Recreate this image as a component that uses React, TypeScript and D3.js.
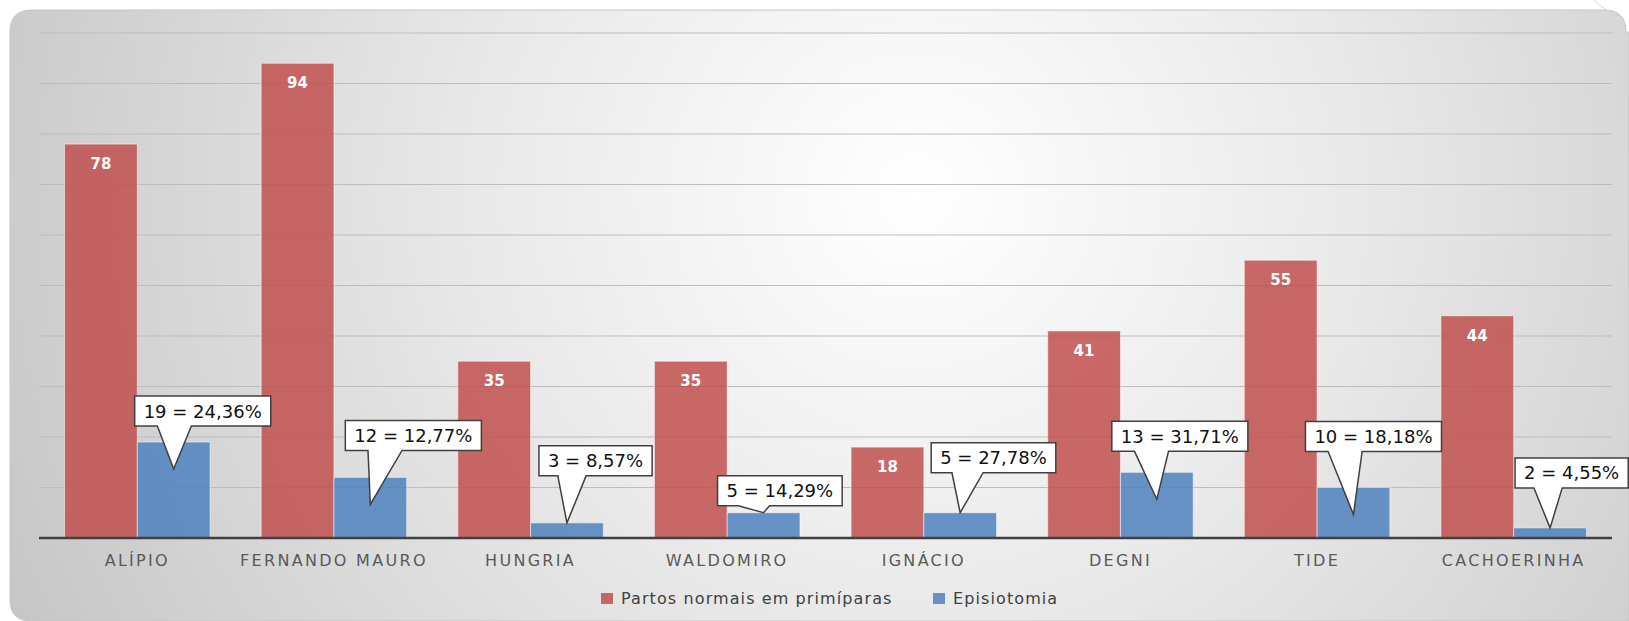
import React, { useMemo } from 'react';
import * as d3 from 'd3';

const WIDTH = 1629;
const HEIGHT = 621;
const PLOT = { left: 39, right: 1612, top: 33, bottom: 538 };

const categories = ['ALÍPIO', 'FERNANDO MAURO', 'HUNGRIA', 'WALDOMIRO', 'IGNÁCIO', 'DEGNI', 'TIDE', 'CACHOERINHA'];
const partos = [78, 94, 35, 35, 18, 41, 55, 44];
const episiotomia = [19, 12, 3, 5, 5, 13, 10, 2];
const seriesNames = ['Partos normais em primíparas', 'Episiotomia'];
const yTicks = [0, 10, 20, 30, 40, 50, 60, 70, 80, 90, 100];

// where each callout box sits relative to its pointer tip (box left, box bottom)
const calloutOffsets: [number, number][] = [
  [-39, -43], [-25, -54], [-28, -47], [-46, -7], [-29, -40], [-45, -48], [-48, -63], [-35, -40],
];

const RED = '#c0504d';
const BLUE = '#4f81bd';
const CALLOUT_FONT = '18px "DejaVu Sans"';

const fmtPct = (v: number) => v.toFixed(2).replace('.', ',') + '%';

const measure = (() => {
  let ctx: CanvasRenderingContext2D | null = null;
  return (text: string, font: string) => {
    if (!ctx) ctx = document.createElement('canvas').getContext('2d');
    if (!ctx) return text.length * 10;
    ctx.font = font;
    return ctx.measureText(text).width;
  };
})();

const App = () => {
  const xScale = useMemo(
    () => d3.scaleBand<string>().domain(categories).range([PLOT.left, PLOT.right]).paddingInner(0.26).paddingOuter(0.13),
    []
  );
  const xSub = useMemo(
    () => d3.scaleBand<number>().domain([0, 1]).range([0, xScale.bandwidth()]),
    [xScale]
  );
  const yScale = useMemo(
    () => d3.scaleLinear().domain([0, 100]).range([PLOT.bottom, PLOT.top]),
    []
  );

  const redBars = categories.map((c, i) => {
    const x = (xScale(c) ?? 0) + (xSub(0) ?? 0);
    const y = yScale(partos[i]);
    return (
      <g key={'r' + i}>
        <rect x={x} y={y} width={xSub.bandwidth()} height={PLOT.bottom - y}
          fill={RED} fillOpacity={0.85} stroke="#fff" strokeOpacity={0.5} strokeWidth={1} />
        <text x={x + xSub.bandwidth() / 2} y={y + 25} textAnchor="middle" fill="#fff"
          fontFamily="DejaVu Sans" fontWeight="bold" fontSize={15}>{partos[i]}</text>
      </g>
    );
  });

  const blueBars = categories.map((c, i) => {
    const x = (xScale(c) ?? 0) + (xSub(1) ?? 0);
    const y = yScale(episiotomia[i]);
    return (
      <rect key={'b' + i} x={x} y={y} width={xSub.bandwidth()} height={PLOT.bottom - y}
        fill={BLUE} fillOpacity={0.85} stroke="#fff" strokeOpacity={0.5} strokeWidth={1} />
    );
  });

  const callouts = categories.map((c, i) => {
    const x = (xScale(c) ?? 0) + (xSub(1) ?? 0) + xSub.bandwidth() / 2;
    const top = yScale(episiotomia[i]);
    const tipY = PLOT.bottom - top > 30 ? top + 27 : top;
    const label = `${episiotomia[i]} = ${fmtPct((episiotomia[i] / partos[i]) * 100)}`;
    const tw = measure(label, CALLOUT_FONT);
    const w = tw + 18;
    const h = 30;
    const left = x + calloutOffsets[i][0];
    const bottom = tipY + calloutOffsets[i][1];
    const topY = bottom - h;
    const b0 = left + w * 0.1667;
    const b1 = left + w * 0.4167;
    const p = d3.path();
    p.moveTo(left, topY);
    p.lineTo(left + w, topY);
    p.lineTo(left + w, bottom);
    p.lineTo(b1, bottom);
    p.lineTo(x, tipY);
    p.lineTo(b0, bottom);
    p.lineTo(left, bottom);
    p.closePath();
    return (
      <g key={'c' + i}>
        <path d={p.toString()} fill="#fff" stroke="#404040" strokeWidth={1.5} strokeLinejoin="miter" />
        <text x={left + w / 2} y={topY + h / 2} dy="0.36em" textAnchor="middle" fill="#111"
          fontFamily="DejaVu Sans" fontSize={18}>{label}</text>
      </g>
    );
  });

  const legendColors = [RED, BLUE];
  const legendX = [601, 933];

  return (
    <svg width={WIDTH} height={HEIGHT} style={{ position: 'absolute', left: 0, top: 0, display: 'block' }}>
      <defs>
        <radialGradient id="bg" cx="0.56" cy="0.3" r="0.62" gradientTransform="translate(0.56 0.3) scale(1 2.6) translate(-0.56 -0.3)">
          <stop offset="0" stopColor="#ffffff" />
          <stop offset="0.45" stopColor="#e8e8e8" />
          <stop offset="1" stopColor="#c6c6c6" />
        </radialGradient>
      </defs>
      <rect x={0} y={0} width={WIDTH} height={HEIGHT} fill="#fff" />
      <path d="M10,32 Q10,10 32,10 L1604,10 Q1626,10 1626,32 L1629,32 L1629,621 L32,621 Q10,621 10,600 Z"
        fill="url(#bg)" stroke="#c4c4c4" strokeWidth={1} />
      <path d="M1594,0 Q1602,8 1610,12" fill="none" stroke="#d9d9d9" strokeWidth={1} />

      {yTicks.filter((t) => t > 0).map((t) => (
        <line key={t} x1={PLOT.left} x2={PLOT.right} y1={yScale(t)} y2={yScale(t)} stroke="#bdbdbd" strokeWidth={1} />
      ))}

      {redBars}
      {blueBars}

      <line x1={PLOT.left} x2={PLOT.right} y1={PLOT.bottom} y2={PLOT.bottom} stroke="#404040" strokeWidth={2.5} />

      {categories.map((c) => (
        <text key={c} x={(xScale(c) ?? 0) + xScale.bandwidth() / 2} y={566} textAnchor="middle"
          fill="#595959" fontFamily="DejaVu Sans" fontSize={16} letterSpacing={2.3}>{c}</text>
      ))}

      {callouts}

      {seriesNames.map((s, i) => (
        <g key={s} transform={`translate(${legendX[i]},0)`}>
          <rect x={0} y={593} width={12} height={11} fill={legendColors[i]} fillOpacity={0.85} />
          <text x={20} y={598} dy="0.36em" fill="#404040" fontFamily="DejaVu Sans" fontSize={16} letterSpacing={1.1}>{s}</text>
        </g>
      ))}
    </svg>
  );
};

export default App;
